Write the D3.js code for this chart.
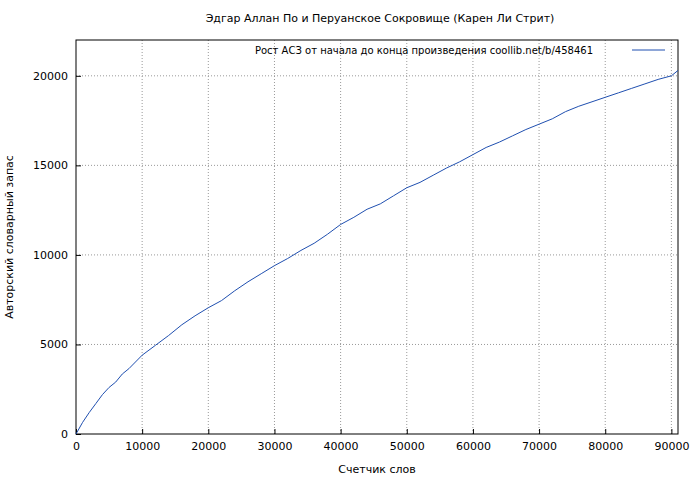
<!DOCTYPE html>
<html>
<head>
<meta charset="utf-8">
<script src="https://d3js.org/d3.v7.min.js"></script>
<style>
body { margin: 0; background: #fff; }
text { font-family: "DejaVu Sans", sans-serif; font-size: 11px; fill: #000; }
</style>
</head>
<body>
<div id="chart"></div>
<script>
// words counter (x) and vocabulary size (y)
var words = [0, 1000, 2000, 3000, 4000, 5000, 6000, 7000, 8000, 10000, 12000, 14000, 16000, 18000, 20000,
  22000, 24000, 26000, 28000, 30000, 32000, 34000, 36000, 38000, 40000, 42000, 44000, 46000, 48000, 50000,
  52000, 54000, 56000, 58000, 60000, 62000, 64000, 66000, 68000, 70000, 72000, 74000, 76000, 78000, 80000,
  82000, 84000, 86000, 88000, 90000, 91000];
var vocab = [0, 650, 1200, 1700, 2200, 2600, 2900, 3350, 3650, 4400, 4950, 5500, 6100, 6600, 7050,
  7450, 8000, 8500, 8950, 9400, 9800, 10250, 10650, 11150, 11700, 12100, 12550, 12850, 13300, 13750,
  14050, 14450, 14850, 15200, 15600, 16000, 16300, 16650, 17000, 17300, 17600, 18000, 18300, 18550, 18800,
  19050, 19300, 19550, 19800, 20000, 20300];
var xTicks = [0, 10000, 20000, 30000, 40000, 50000, 60000, 70000, 80000, 90000];
var yTicks = [0, 5000, 10000, 15000, 20000];

var width = 700, height = 480;
var margin = {left: 76, right: 22, top: 40, bottom: 46};
var w = width - margin.left - margin.right, h = height - margin.top - margin.bottom;

var svg = d3.select("#chart").append("svg").attr("width", width).attr("height", height);
var g = svg.append("g").attr("transform", "translate(" + margin.left + "," + margin.top + ")");

var x = d3.scaleLinear().domain([0, 91000]).range([0, w]);
var y = d3.scaleLinear().domain([0, 22000]).range([h, 0]);

// grid
g.selectAll(".gx").data(xTicks.slice(1)).enter().append("line")
  .attr("x1", d => x(d)).attr("x2", d => x(d)).attr("y1", 0).attr("y2", h)
  .attr("stroke", "#999").attr("stroke-dasharray", "1,2");
g.selectAll(".gy").data(yTicks.slice(1)).enter().append("line")
  .attr("y1", d => y(d)).attr("y2", d => y(d)).attr("x1", 0).attr("x2", w)
  .attr("stroke", "#999").attr("stroke-dasharray", "1,2");

// axes, ticks inward
g.append("g").attr("transform", "translate(0," + h + ")")
  .call(d3.axisBottom(x).tickValues(xTicks).tickFormat(d3.format("d")).tickSize(-5).tickPadding(8))
  .call(a => a.select(".domain").remove());
g.append("g")
  .call(d3.axisLeft(y).tickValues(yTicks).tickFormat(d3.format("d")).tickSize(-5).tickPadding(8))
  .call(a => a.select(".domain").remove());
g.selectAll(".tick text").style("font-size", "11px").attr("font-family", "DejaVu Sans");
g.append("rect").attr("width", w).attr("height", h).attr("fill", "none").attr("stroke", "#000");

// curve
g.append("path").datum(words.map((d, i) => [d, vocab[i]]))
  .attr("fill", "none").attr("stroke", "#1f4fb0").attr("stroke-width", 1)
  .attr("d", d3.line().x(d => x(d[0])).y(d => y(d[1])));

// legend
g.append("text").attr("x", w - 85).attr("y", 14).attr("text-anchor", "end")
  .style("font-size", "10px")
  .text("Рост АСЗ от начала до конца произведения coollib.net/b/458461");
g.append("line").attr("x1", w - 46).attr("x2", w - 13).attr("y1", 10).attr("y2", 10)
  .attr("stroke", "#1f4fb0");

// titles
svg.append("text").attr("x", 380).attr("y", 22).attr("text-anchor", "middle")
  .text("Эдгар Аллан По и Перуанское Сокровище (Карен Ли Стрит)");
svg.append("text").attr("x", margin.left + w / 2).attr("y", 473).attr("text-anchor", "middle")
  .text("Счетчик слов");
svg.append("text").attr("transform", "translate(13," + (margin.top + h / 2) + ") rotate(-90)")
  .attr("text-anchor", "middle").text("Авторский словарный запас");
</script>
</body>
</html>
